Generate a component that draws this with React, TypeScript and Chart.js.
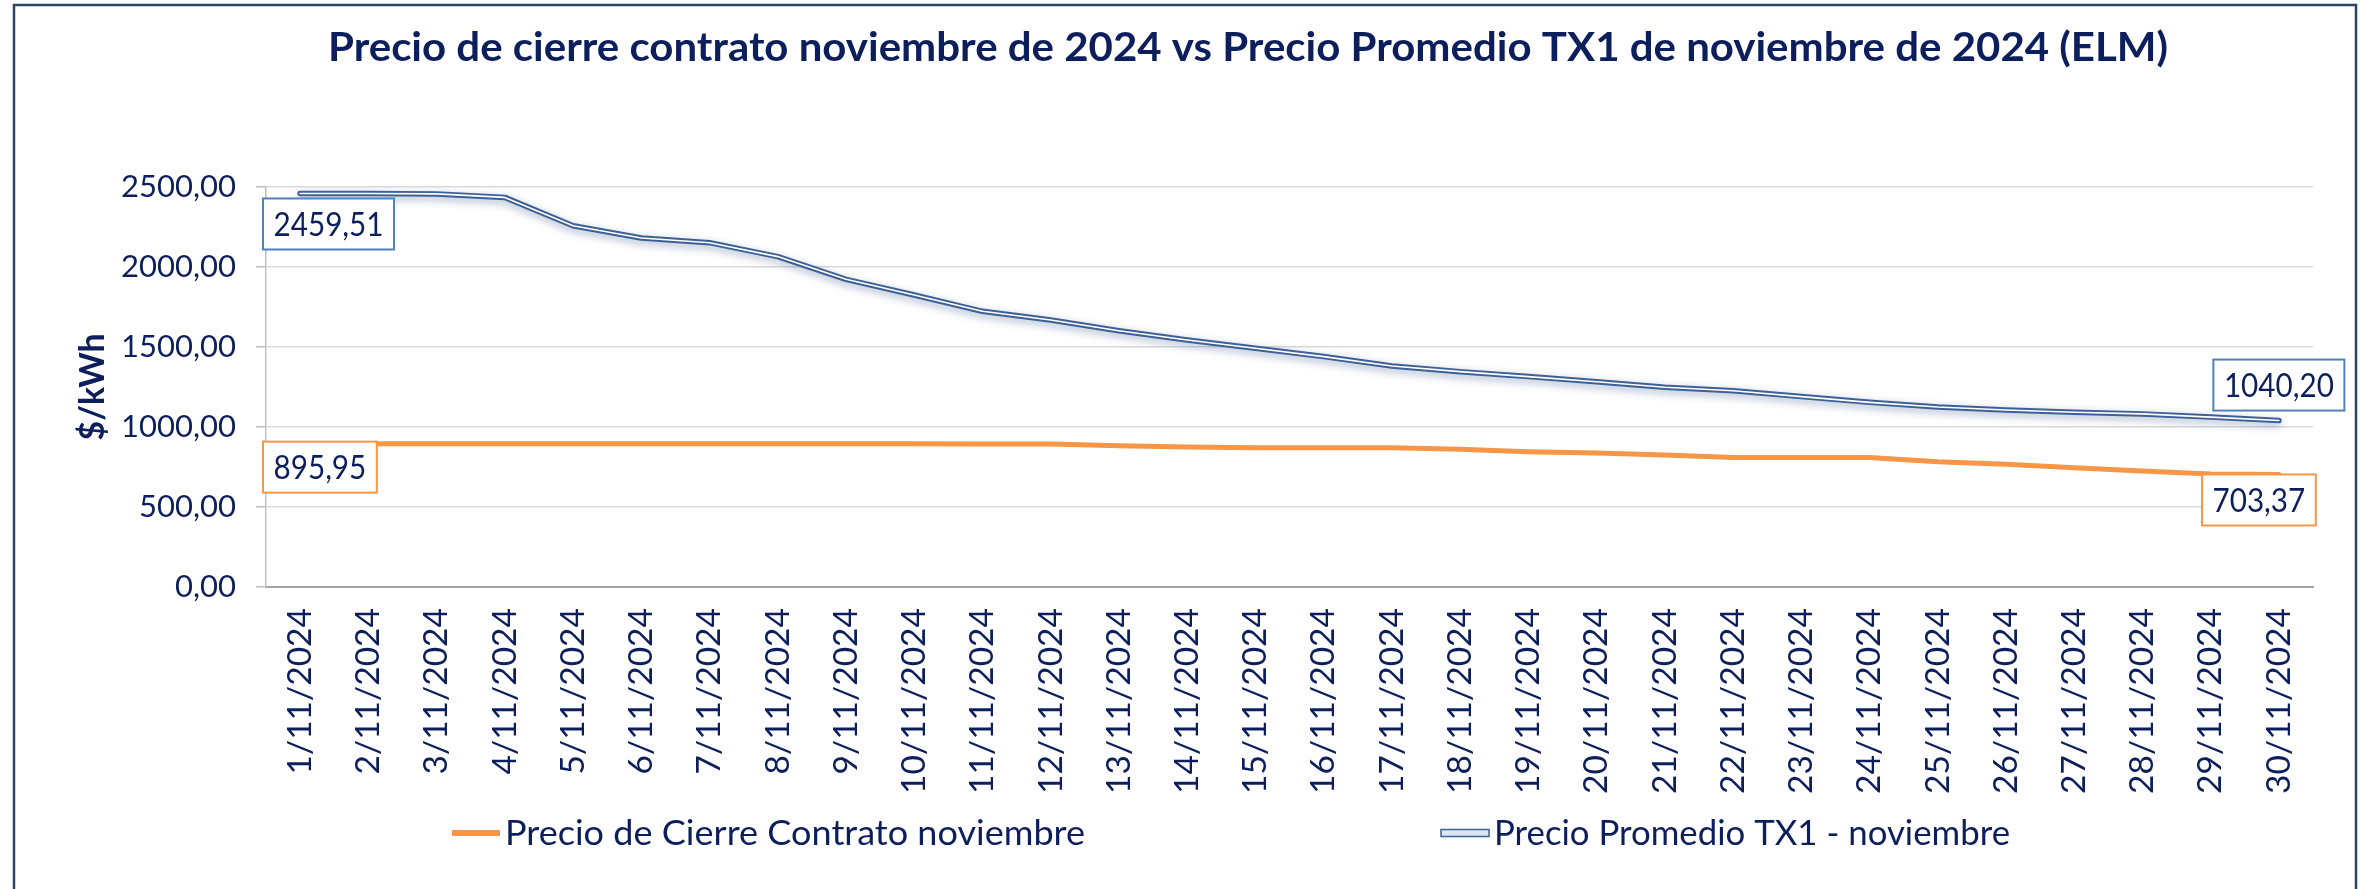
import React, { useEffect, useRef } from "react";
import { Chart, registerables } from "chart.js";

Chart.register(...registerables);

const W = 2361;
const H = 889;

const titleText =
  "Precio de cierre contrato noviembre de 2024 vs Precio Promedio TX1 de noviembre de 2024 (ELM)";
const yAxisTitle = "$/kWh";

const categories = [
  "1/11/2024", "2/11/2024", "3/11/2024", "4/11/2024", "5/11/2024",
  "6/11/2024", "7/11/2024", "8/11/2024", "9/11/2024", "10/11/2024",
  "11/11/2024", "12/11/2024", "13/11/2024", "14/11/2024", "15/11/2024",
  "16/11/2024", "17/11/2024", "18/11/2024", "19/11/2024", "20/11/2024",
  "21/11/2024", "22/11/2024", "23/11/2024", "24/11/2024", "25/11/2024",
  "26/11/2024", "27/11/2024", "28/11/2024", "29/11/2024", "30/11/2024",
];

const seriesNames = [
  "Precio de Cierre Contrato noviembre",
  "Precio Promedio TX1 - noviembre",
];

const contractPrice = [
  895.95, 895.95, 895.95, 895.95, 895.95, 895.95, 895.95, 895.95, 895.95, 895.95,
  894, 893, 883, 875, 871, 871, 871, 861, 846, 837,
  825, 810, 810, 810, 783, 767, 746, 725, 706, 703.37,
];

const tx1Price = [
  2459.51, 2459, 2457, 2435, 2258, 2181, 2152, 2065, 1923, 1825,
  1723, 1669, 1602, 1544, 1492, 1440, 1381, 1346, 1315, 1283,
  1248, 1227, 1190, 1154, 1125, 1106, 1092, 1082, 1062, 1040.2,
];

const yTicks = [0, 500, 1000, 1500, 2000, 2500];

const FONT = "Lato";
const NAVY = "#0C1F5C";
const ORANGE = "#F79646";
const BLUE_LINE = "#3D6097";
const BLUE_LABEL = "#4F81BD";
const FRAME = "#2A4466";

const fmt = (v: number) => v.toFixed(2).replace(".", ",");

function measure(text: string, weight: string, size: number) {
  const c = document.createElement("canvas").getContext("2d")!;
  c.font = `${weight} ${size}px ${FONT}`;
  return c.measureText(text).width;
}
function fitSize(text: string, weight: string, width: number) {
  return (100 * width) / measure(text, weight, 100);
}

function drawScaledText(
  ctx: CanvasRenderingContext2D,
  text: string,
  x: number,
  y: number,
  size: number,
  weight: string,
  targetWidth: number,
  align: CanvasTextAlign,
  color: string
) {
  ctx.save();
  ctx.font = `${weight} ${size}px ${FONT}`;
  const w = ctx.measureText(text).width;
  const sx = targetWidth / w;
  ctx.translate(x, y);
  ctx.scale(sx, 1);
  ctx.textAlign = align;
  ctx.textBaseline = "alphabetic";
  ctx.fillStyle = color;
  ctx.fillText(text, 0, 0);
  ctx.restore();
}

export default function App() {
  const ref = useRef<HTMLCanvasElement>(null);

  useEffect(() => {
    const canvas = ref.current!;
    Chart.defaults.font.family = FONT;

    const tickSize = fitSize("2500,00", "normal", 115);
    const xTickSize = fitSize("10/11/2024", "normal", 186);
    const yTitleSize = fitSize(yAxisTitle, "bold", 107);

    const framePlugin = {
      id: "frame",
      beforeDraw(chart: any) {
        const ctx = chart.ctx;
        ctx.save();
        ctx.fillStyle = "#FFFFFF";
        ctx.fillRect(0, 0, chart.width, chart.height);
        ctx.strokeStyle = FRAME;
        ctx.lineWidth = 2.5;
        ctx.beginPath();
        ctx.moveTo(14, H + 10);
        ctx.lineTo(14, 5);
        ctx.lineTo(2356, 5);
        ctx.lineTo(2356, H + 10);
        ctx.stroke();
        ctx.restore();
      },
    };

    const glowPlugin = {
      id: "glow",
      beforeDatasetDraw(chart: any, args: any) {
        if (args.index === 1) {
          const ctx = chart.ctx;
          ctx.save();
          ctx.shadowColor = "rgba(60, 90, 140, 0.45)";
          ctx.shadowBlur = 9;
          ctx.shadowOffsetY = 3;
        }
      },
      afterDatasetDraw(chart: any, args: any) {
        if (args.index === 1) chart.ctx.restore();
      },
    };

    const labelSpecs = [
      { ds: 1, idx: 0, place: "below", gap: 5, dx: 0, color: BLUE_LABEL },
      { ds: 0, idx: 0, place: "below", gap: -2, dx: 0, color: ORANGE },
      { ds: 1, idx: categories.length - 1, place: "above", gap: 10, dx: 0, color: BLUE_LABEL },
      { ds: 0, idx: categories.length - 1, place: "below", gap: 0, dx: -20, color: ORANGE },
    ];

    const labelPlugin = {
      id: "valueLabels",
      afterDatasetsDraw(chart: any) {
        const ctx: CanvasRenderingContext2D = chart.ctx;
        const area = chart.chartArea;
        const size = 33;
        ctx.save();
        ctx.font = `normal ${size}px ${FONT}`;
        const sx = 110 / ctx.measureText("2459,51").width;
        const asc = ctx.measureText("0").actualBoundingBoxAscent;
        for (const s of labelSpecs) {
          const el = chart.getDatasetMeta(s.ds).data[s.idx];
          const value = chart.data.datasets[s.ds].data[s.idx] as number;
          const text = fmt(value);
          const tw = ctx.measureText(text).width * sx;
          const bw = tw + 21;
          const bh = 51;
          let left = el.x + s.dx - bw / 2;
          if (s.idx === 0) left = Math.max(left, area.left - 3);
          const top = s.place === "below" ? el.y + s.gap : el.y - s.gap - bh;
          ctx.fillStyle = "#FFFFFF";
          ctx.fillRect(left, top, bw, bh);
          ctx.strokeStyle = s.color;
          ctx.lineWidth = 2;
          ctx.strokeRect(left, top, bw, bh);
          ctx.save();
          ctx.translate(left + bw / 2, top + bh / 2 + asc / 2);
          ctx.scale(sx, 1);
          ctx.fillStyle = NAVY;
          ctx.textAlign = "center";
          ctx.textBaseline = "alphabetic";
          ctx.fillText(text, 0, 0);
          ctx.restore();
        }
        ctx.restore();
      },
    };

    const titleLegendPlugin = {
      id: "titleLegend",
      afterDraw(chart: any) {
        const ctx: CanvasRenderingContext2D = chart.ctx;
        drawScaledText(ctx, titleText, 1248, 61, 41, "bold", 1840, "center", NAVY);

        const names = chart.data.datasets.map((d: any) => d.label);
        const ly = 833;
        // orange item
        ctx.save();
        ctx.fillStyle = ORANGE;
        ctx.fillRect(452, ly - 3, 48, 6);
        // blue item (double line)
        ctx.fillStyle = "#DCE6F2";
        ctx.fillRect(1441, ly - 3.5, 48, 7);
        ctx.strokeStyle = BLUE_LINE;
        ctx.lineWidth = 1.5;
        ctx.strokeRect(1441, ly - 3.5, 48, 7);
        ctx.restore();
        drawScaledText(ctx, names[0], 505, 845, 35, "normal", 580, "left", NAVY);
        drawScaledText(ctx, names[1], 1494, 845, 35, "normal", 516, "left", NAVY);
      },
    };

    const chart = new Chart(canvas, {
      type: "line",
      data: {
        labels: categories,
        datasets: [
          {
            label: seriesNames[0],
            data: contractPrice,
            borderColor: ORANGE,
            backgroundColor: ORANGE,
            borderWidth: 5,
            pointRadius: 0,
            tension: 0,
            borderJoinStyle: "round",
            borderCapStyle: "round",
            order: 2,
          },
          {
            label: seriesNames[1],
            data: tx1Price,
            borderColor: BLUE_LINE,
            backgroundColor: "#DCE6F2",
            borderWidth: 5.5,
            pointRadius: 0,
            tension: 0,
            borderJoinStyle: "round",
            borderCapStyle: "round",
            order: 1,
          },
          {
            label: "",
            data: tx1Price,
            borderColor: "#FFFFFF",
            borderWidth: 1.6,
            pointRadius: 0,
            tension: 0,
            borderJoinStyle: "round",
            borderCapStyle: "round",
            order: 0,
          },
        ],
      },
      options: {
        responsive: false,
        animation: false,
        devicePixelRatio: 1,
        layout: { padding: { left: 0, right: 48, top: 187, bottom: 0 } },
        plugins: {
          legend: { display: false },
          title: { display: false },
          tooltip: { enabled: false },
        },
        scales: {
          x: {
            type: "category",
            offset: true,
            afterFit: (s: any) => {
              s.height = 302;
            },
            grid: { display: false, drawTicks: false },
            border: { display: true, color: "#A6A6A6", width: 2 },
            ticks: {
              autoSkip: false,
              maxRotation: 90,
              minRotation: 90,
              padding: 21,
              color: NAVY,
              font: { size: xTickSize, family: FONT },
            },
          },
          y: {
            min: 0,
            max: 2500,
            afterFit: (s: any) => {
              s.width = 266;
            },
            afterBuildTicks: (s: any) => {
              s.ticks = yTicks.map((v) => ({ value: v }));
            },
            grid: {
              color: "#D9D9D9",
              lineWidth: 1.5,
              drawTicks: true,
              tickLength: 10,
              tickColor: "#BFBFBF",
            },
            border: { display: true, color: "#BFBFBF", width: 1.5 },
            ticks: {
              padding: 20,
              color: NAVY,
              font: { size: tickSize, family: FONT },
              callback: (v: any) => fmt(Number(v)),
            },
            title: {
              display: true,
              text: yAxisTitle,
              color: NAVY,
              font: { size: yTitleSize, weight: "bold", family: FONT },
              padding: { top: 93 - 0.6 * yTitleSize, bottom: 0 },
            },
          },
        },
      },
      plugins: [framePlugin, glowPlugin, labelPlugin, titleLegendPlugin],
    } as any);

    return () => chart.destroy();
  }, []);

  return (
    <div style={{ position: "absolute", left: 0, top: 0, width: W, height: H, background: "#FFFFFF" }}>
      <canvas ref={ref} width={W} height={H} style={{ display: "block", width: W, height: H }} />
    </div>
  );
}
